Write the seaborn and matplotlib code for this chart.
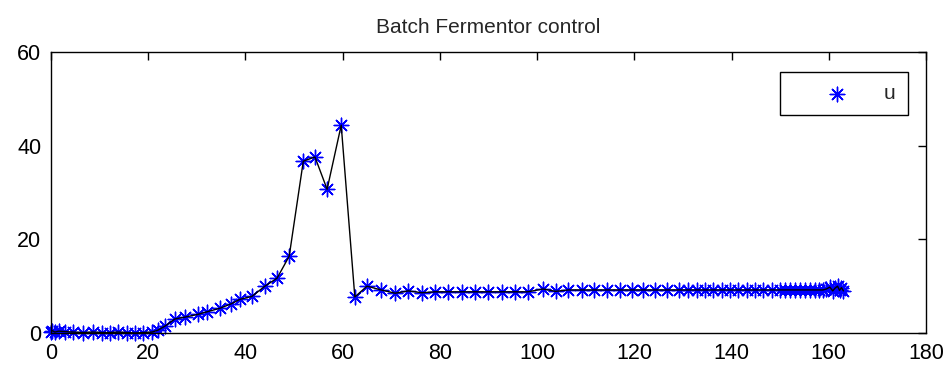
import matplotlib
matplotlib.use("Agg")
import matplotlib.pyplot as plt
import seaborn as sns
import pandas as pd

t = [0, 0.3, 0.8, 1.6, 2.9, 4.5, 6.6, 8.6, 10.5, 12.1, 13.8, 15.6, 17.3, 18.9, 20.8,
     22.0, 23.5, 25.5, 27.6, 30.3, 32.0, 34.8, 37.0, 38.9, 41.3, 44.0, 46.5, 49.0,
     51.9, 54.3, 56.8, 59.7, 62.5, 65.0, 67.9, 70.8, 73.5, 76.3, 79.0, 81.7, 84.5,
     87.2, 89.9, 92.7, 95.4, 98.1, 101.2, 103.8, 106.4, 109.2, 111.6, 114.3, 117.1,
     119.5, 121.8, 124.3, 126.7, 129.1, 131.1, 132.8, 134.5, 136.2, 138.0, 139.7,
     141.4, 143.1, 144.8, 146.5, 148.3, 150.0, 151.0, 152.0, 153.0, 154.1, 155.1,
     156.1, 157.2, 158.0, 158.8, 159.5, 160.2, 160.8, 161.3, 161.8, 162.2, 162.6, 163.0]
u = [0.3, 0.5, 0.2, 0.4, 0.3, 0.2, 0.1, 0.2, 0.1, 0.1, 0.2, 0.1, 0.0, 0.1, 0.2,
     0.6, 1.5, 3.0, 3.4, 4.0, 4.5, 5.3, 6.2, 7.2, 7.8, 10.0, 11.7, 16.4,
     36.7, 37.6, 30.7, 44.4, 7.7, 10.0, 9.2, 8.5, 9.0, 8.6, 8.8, 8.8, 8.8,
     8.8, 8.8, 8.8, 8.8, 8.8, 9.4, 8.9, 9.2, 9.2, 9.2, 9.2, 9.2,
     9.2, 9.2, 9.2, 9.2, 9.2, 9.2, 9.2, 9.2, 9.2, 9.2, 9.2,
     9.2, 9.2, 9.2, 9.2, 9.2, 9.2, 9.2, 9.2, 9.2, 9.2, 9.2,
     9.2, 9.2, 9.2, 9.2, 9.4, 9.8, 9.0, 9.6, 10.0, 9.1, 9.7, 9.0]
xticks = [0, 20, 40, 60, 80, 100, 120, 140, 160, 180]
yticks = [0, 20, 40, 60]

df = pd.DataFrame({"t": t, "u": u})

sns.set_style("white")
plt.rcParams['font.family'] = ['Liberation Sans', 'DejaVu Sans']

fig = plt.figure(figsize=(9.44, 3.75), dpi=100)
ax = fig.add_axes([0.054, 0.112, 0.927, 0.749])

sns.scatterplot(data=df, x="t", y="u", marker=(8, 2, 0), s=110, color="blue",
                linewidth=1.0, ax=ax, label="u", zorder=2, clip_on=False)
sns.lineplot(data=df, x="t", y="u", color="black", linewidth=1.0, ax=ax,
             legend=False, zorder=3, sort=False)

ax.set_xlim(0, 180)
ax.set_ylim(0, 60)
ax.set_xticks(xticks)
ax.set_yticks(yticks)
ax.set_xlabel("")
ax.set_ylabel("")
ax.tick_params(direction="in", top=True, right=True, length=6, width=1,
               labelsize=15.5, color="black", labelcolor="black")
ax.tick_params(axis="x", pad=7)
ax.tick_params(axis="y", pad=7)
for s in ax.spines.values():
    s.set_color("black")
    s.set_linewidth(1.0)
ax.set_title("Batch Fermentor control", fontsize=15, pad=14)

leg = ax.legend(loc="upper right", bbox_to_anchor=(0.979, 0.929), fancybox=False,
                edgecolor="black", framealpha=1, fontsize=15, handlelength=4.3,
                borderpad=0.58, handletextpad=0.1, borderaxespad=0)
leg.get_frame().set_linewidth(1.0)

fig.savefig("out.png", dpi=100)
